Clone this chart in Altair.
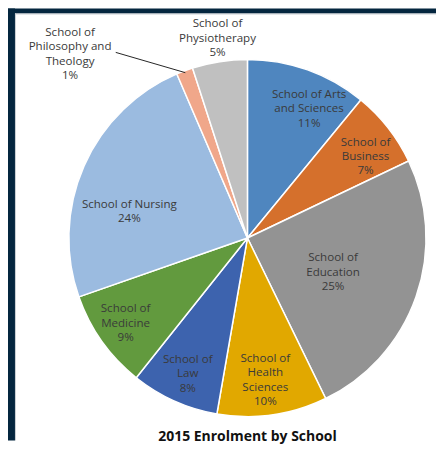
import math
import altair as alt
import pandas as pd

schools = ["School of Arts and Sciences", "School of Business", "School of Education",
           "School of Health Sciences", "School of Law", "School of Medicine",
           "School of Nursing", "School of Philosophy and Theology", "School of Physiotherapy"]
shares = [11, 7, 25, 10, 8, 9, 24, 1.5, 5]
pct_labels = ["11%", "7%", "25%", "10%", "8%", "9%", "24%", "1%", "5%"]
label_lines = [
    "School of Arts\nand Sciences",
    "School of\nBusiness",
    "School of\nEducation",
    "School of\nHealth\nSciences",
    "School of\nLaw",
    "School of\nMedicine",
    "School of Nursing",
    "School of\nPhilosophy and\nTheology",
    "School of\nPhysiotherapy",
]
colors = ["#4f86bf", "#d5702c", "#939393", "#e1a800", "#3d63ae",
          "#629a3e", "#9bbbe0", "#f0a78a", "#c0c0c0"]
title_text = "2015 Enrolment by School"

# layout (label placement in polar terms, degrees clockwise from top / pixels)
label_angle = [25.8, 55.9, 112.7, 172.9, 203.5, 234.5, 282.0, 315.8, 351.4]
label_radius = [142, 143, 93, 145, 150, 150, 121, 255, 201]
W, H = 429, 433
CX, CY, R = 240, 230, 179
LH = 14.5

labels_full = [l + "\n" + p for l, p in zip(label_lines, pct_labels)]
nlines = [t.count("\n") + 1 for t in labels_full]
lx = [CX + r * math.sin(math.radians(a)) for a, r in zip(label_angle, label_radius)]
ly = [CY - 1 - r * math.cos(math.radians(a)) - (n - 1) * LH / 2
      for a, r, n in zip(label_angle, label_radius, nlines)]

df = pd.DataFrame({
    "school": schools,
    "share": shares,
    "order": list(range(len(schools))),
    "label": labels_full,
    "lx": lx,
    "ly": ly,
})

# leader line for the Philosophy label
tot = sum(shares)
phil_mid = (sum(shares[:7]) + shares[7] / 2) / tot * 2 * math.pi
lead = pd.DataFrame({
    "x": [CX - 132], "y": [CY - 186],
    "x2": [CX + (R - 2) * math.sin(phil_mid)], "y2": [CY - (R - 2) * math.cos(phil_mid)],
})

frame_top = alt.Chart(alt.Data(values=[{"a": 1}])).mark_rect(fill="#04263f").encode(
    x=alt.value(0), x2=alt.value(W), y=alt.value(0), y2=alt.value(5))
frame_left = alt.Chart(alt.Data(values=[{"a": 1}])).mark_rect(fill="#04263f").encode(
    x=alt.value(0), x2=alt.value(7), y=alt.value(0), y2=alt.value(H))
edge_top = alt.Chart(alt.Data(values=[{"a": 1}])).mark_rule(color="#c9ced3", strokeWidth=1).encode(
    x=alt.value(7), x2=alt.value(W), y=alt.value(5.5))
edge_left = alt.Chart(alt.Data(values=[{"a": 1}])).mark_rule(color="#c9ced3", strokeWidth=1).encode(
    x=alt.value(7.5), y=alt.value(5), y2=alt.value(H))

pie = alt.Chart(df).mark_arc(radius=R, stroke="white", strokeWidth=1.5).encode(
    theta=alt.Theta("share:Q", stack=True),
    order=alt.Order("order:O"),
    color=alt.Color("school:N", scale=alt.Scale(domain=schools, range=colors), legend=None),
    x=alt.value(CX), y=alt.value(CY),
)

labels = alt.Chart(df).mark_text(
    font="Open Sans", fontSize=11.6, color="#3a3a3a", lineBreak="\n",
    lineHeight=LH, align="center", baseline="middle"
).encode(
    x=alt.X("lx:Q", scale=None),
    y=alt.Y("ly:Q", scale=None),
    text="label:N",
)

leader = alt.Chart(lead).mark_rule(color="#262626", strokeWidth=1).encode(
    x=alt.X("x:Q", scale=None), y=alt.Y("y:Q", scale=None),
    x2="x2:Q", y2="y2:Q",
)

title = alt.Chart(alt.Data(values=[{"t": title_text}])).mark_text(
    font="Open Sans", fontSize=14, fontWeight="bold", color="#111111",
    align="center", baseline="middle"
).encode(text="t:N", x=alt.value(CX), y=alt.value(H - 4))

chart = alt.layer(frame_top, frame_left, edge_top, edge_left, pie, leader, labels, title).properties(
    width=W, height=H, padding=0, background="white"
).configure_view(stroke=None)

chart.save("out.html", embed_options={"renderer": "svg", "actions": False})
